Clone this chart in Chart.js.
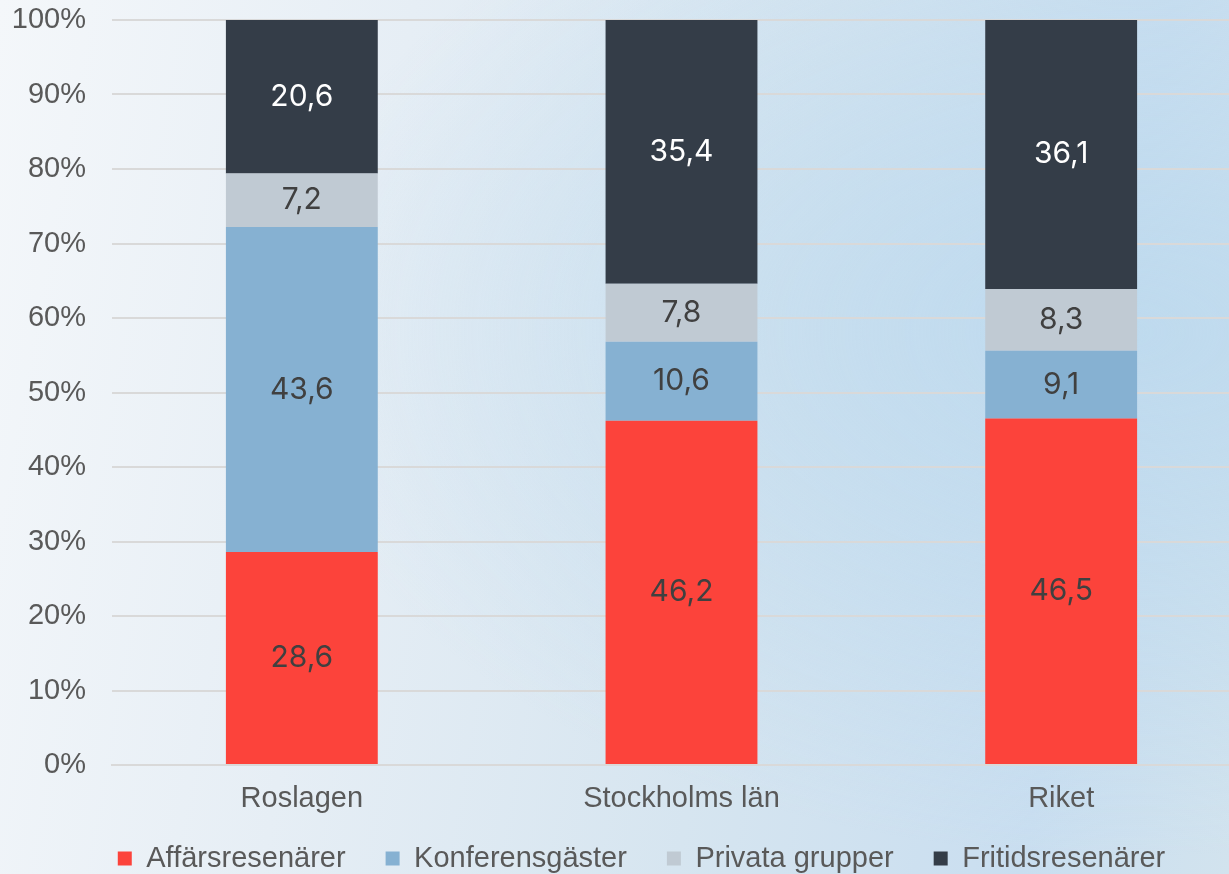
<!DOCTYPE html>
<html lang="sv">
<head>
<meta charset="utf-8">
<title>Gästkategorier</title>
<script src="https://cdn.jsdelivr.net/npm/chart.js@4"></script>
<style>
  html, body { margin: 0; padding: 0; overflow: hidden; }
  body {
    width: 1229px; height: 874px;
    background:
      radial-gradient(ellipse 70% 60% at 92% 38%, rgba(190,218,238,0.95) 0%, rgba(190,218,238,0) 100%),
      linear-gradient(100deg, #f4f7fa 0%, #e6eef5 30%, #d6e5f0 60%, #c9def0 85%, #d2e3ee 100%);
  }
  #wrap { position: absolute; left: 0; top: 0; width: 1251px; height: 874px; }
</style>
</head>
<body>
<div id="wrap"><canvas id="chart"></canvas></div>
<script>
'use strict';

// ── Daten ──
const categories = ['Roslagen', 'Stockholms län', 'Riket'];
const affarsresenarer = [28.6, 46.2, 46.5];
const konferensgaster = [43.6, 10.6, 9.1];
const privataGrupper  = [7.2, 7.8, 8.3];
const fritidsresenarer = [20.6, 35.4, 36.1];
const yTicks = [0, 10, 20, 30, 40, 50, 60, 70, 80, 90, 100];

const AXIS_FONT = { family: '"Liberation Sans", Arial, sans-serif', size: 29 };
const TEXT_COL  = '#595959';

// ── Datenbeschriftungen in den Segmenten ──
const segmentLabels = {
  id: 'segmentLabels',
  afterDatasetsDraw(chart) {
    const ctx = chart.ctx;
    ctx.save();
    ctx.font = '400 30px Inter, "Open Sans", sans-serif';
    ctx.textAlign = 'center';
    ctx.textBaseline = 'middle';
    chart.data.datasets.forEach((ds, di) => {
      chart.getDatasetMeta(di).data.forEach((bar, i) => {
        const v = ds.data[i];
        const y = (bar.y + bar.base) / 2;
        ctx.fillStyle = ds.labelColor;
        ctx.fillText(v.toFixed(1).replace('.', ','), bar.x, y);
      });
    });
    ctx.restore();
  }
};

// Legende: feste Höhe und etwas verschoben, damit sie wie im Original sitzt
const LEGEND_H = 57, LEGEND_DX = 10, LEGEND_DY = 13;
const legendTweak = {
  id: 'legendTweak',
  beforeInit(chart) {
    const lg = chart.legend;
    const fit = lg.fit;
    lg.fit = function () { fit.call(this); this.height = LEGEND_H; };
    const draw = lg._draw;
    lg._draw = function () {
      this.top -= LEGEND_DY; this.left += LEGEND_DX; this.right += LEGEND_DX;
      draw.call(this);
      this.top += LEGEND_DY; this.left -= LEGEND_DX; this.right -= LEGEND_DX;
    };
  }
};

const mk = (label, data, color, labelColor) => ({
  label, data, backgroundColor: color, labelColor,
  borderWidth: 0, barPercentage: 0.4, categoryPercentage: 1,
});

new Chart(document.getElementById('chart'), {
  type: 'bar',
  data: {
    labels: categories,
    datasets: [
      mk('Affärsresenärer', affarsresenarer, '#fc433b', '#404040'),
      mk('Konferensgäster', konferensgaster, '#86b1d2', '#404040'),
      mk('Privata grupper', privataGrupper, '#c0cad3', '#404040'),
      mk('Fritidsresenärer', fritidsresenarer, '#343d48', '#ffffff'),
    ],
  },
  plugins: [segmentLabels, legendTweak],
  options: {
    responsive: true,
    maintainAspectRatio: false,
    animation: false,
    layout: { padding: { top: 20, left: 12, right: 0, bottom: 0 } },
    plugins: {
      tooltip: { enabled: false },
      legend: {
        position: 'bottom',
        labels: {
          boxWidth: 14, boxHeight: 14, padding: 40,
          color: TEXT_COL, font: AXIS_FONT,
        },
      },
    },
    scales: {
      x: {
        stacked: true,
        grid: { display: false, drawTicks: false },
        border: { display: true, color: '#d9d9d9', width: 2 },
        ticks: { color: TEXT_COL, font: AXIS_FONT, padding: 17 },
        afterFit: s => { s.height = 52; s.paddingLeft = 0; s.paddingRight = 0; },
      },
      y: {
        stacked: true,
        min: 0, max: 100,
        afterBuildTicks: s => { s.ticks = yTicks.map(v => ({ value: v })); },
        grid: { color: '#d9d9d9', lineWidth: 2, drawTicks: false },
        border: { display: false },
        ticks: { color: TEXT_COL, font: AXIS_FONT, padding: 26, callback: v => v + '%' },
        afterFit: s => { s.width = 100; s.paddingTop = 0; s.paddingBottom = 0; },
      },
    },
  },
});
</script>
</body>
</html>
